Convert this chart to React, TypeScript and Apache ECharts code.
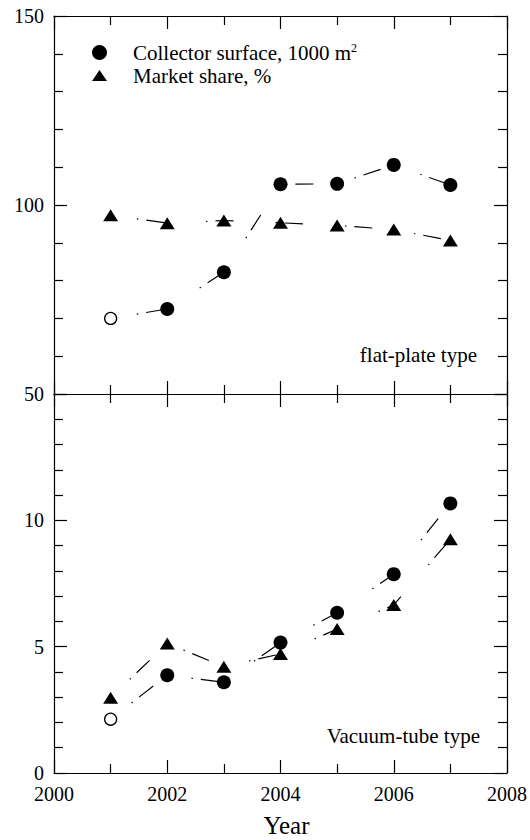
import React, { useEffect, useRef } from "react";
import * as echarts from "echarts";

const years = [2001, 2002, 2003, 2004, 2005, 2006, 2007];
const flatCollector = [70.0, 72.5, 82.2, 105.5, 105.6, 110.6, 105.3];
const flatShare = [97.3, 95.2, 95.9, 95.3, 94.6, 93.5, 90.6];
const vacuumCollector = [2.13, 3.87, 3.59, 5.16, 6.34, 7.87, 10.67];
const vacuumShare = [2.98, 5.13, 4.21, 4.71, 5.7, 6.65, 9.25];
const xTicks = [2000, 2002, 2004, 2006, 2008];
const topYTicks = [50, 100, 150];
const bottomYTicks = [0, 5, 10, 15];

const FONT = "Liberation Serif, Times New Roman, serif";
const BLACK = "#000";

export default function App() {
  const ref = useRef<HTMLDivElement>(null);
  useEffect(() => {
    if (!ref.current) return;
    const chart = echarts.init(ref.current, undefined, { renderer: "svg" });

    const lineSt = { color: BLACK, width: 1.2 };
    const xAxis = (gridIndex: number, position: string, showLabel: boolean) => ({
      type: "value",
      gridIndex,
      position,
      min: xTicks[0],
      max: xTicks[xTicks.length - 1],
      interval: xTicks[1] - xTicks[0],
      axisLine: { show: true, onZero: false, lineStyle: lineSt },
      axisTick: { show: true, inside: true, length: 13, lineStyle: lineSt },
      minorTick: { show: true, splitNumber: 2, length: 9, lineStyle: lineSt },
      splitLine: { show: false },
      minorSplitLine: { show: false },
      axisLabel: {
        show: showLabel,
        color: BLACK,
        fontFamily: FONT,
        fontSize: 20,
        margin: 11,
        formatter: (v: number) => String(v),
      },
      ...(showLabel
        ? {
            name: "Year",
            nameLocation: "middle",
            nameGap: 40,
            nameTextStyle: {
              color: BLACK,
              fontFamily: FONT,
              fontSize: 25,
              padding: [0, 0, 0, 12],
            },
          }
        : {}),
    });
    const yAxis = (
      gridIndex: number,
      position: string,
      ticks: number[],
      minorSplit: number,
      showLabel: boolean,
      showMax: boolean
    ) => ({
      type: "value",
      gridIndex,
      position,
      min: ticks[0],
      max: ticks[ticks.length - 1],
      interval: ticks[1] - ticks[0],
      axisLine: { show: true, onZero: false, lineStyle: lineSt },
      axisTick: { show: true, inside: true, length: 13, lineStyle: lineSt },
      minorTick: { show: true, splitNumber: minorSplit, length: 9, lineStyle: lineSt },
      splitLine: { show: false },
      minorSplitLine: { show: false },
      axisLabel: {
        show: showLabel,
        showMaxLabel: showMax,
        color: BLACK,
        fontFamily: FONT,
        fontSize: 20,
        margin: 10,
        formatter: (v: number) => String(v),
      },
    });

    const dashLine = {
      color: BLACK,
      width: 1.2,
      type: [1.5, 8, 18, 42],
      dashOffset: 42.5,
    };
    const circleData = (vals: number[]) =>
      years.map((y, i) =>
        i === 0
          ? {
              value: [y, vals[i]],
              symbolSize: 12,
              itemStyle: { color: "#fff", borderColor: BLACK, borderWidth: 1.3 },
            }
          : { value: [y, vals[i]] }
      );
    const triData = (vals: number[]) => years.map((y, i) => [y, vals[i]]);

    const circleSeries = (idx: number, vals: number[]) => ({
      type: "line",
      name: "Collector surface",
      xAxisIndex: idx * 2,
      yAxisIndex: idx * 2,
      data: circleData(vals),
      symbol: "circle",
      symbolSize: 14,
      showAllSymbol: true,
      itemStyle: { color: BLACK },
      lineStyle: dashLine,
      silent: true,
      z: 3,
    });
    const triSeries = (idx: number, vals: number[]) => ({
      type: "line",
      name: "Market share",
      xAxisIndex: idx * 2,
      yAxisIndex: idx * 2,
      data: triData(vals),
      symbol: "triangle",
      symbolSize: [15, 12],
      showAllSymbol: true,
      itemStyle: { color: BLACK },
      lineStyle: dashLine,
      silent: true,
      z: 2,
    });

    chart.setOption({
      animation: false,
      backgroundColor: "#fff",
      grid: [
        { left: 54, top: 16, width: 453, height: 378 },
        { left: 54, top: 394, width: 453, height: 379 },
      ],
      xAxis: [
        xAxis(0, "bottom", false),
        xAxis(0, "top", false),
        xAxis(1, "bottom", true),
        xAxis(1, "top", false),
      ],
      yAxis: [
        yAxis(0, "left", topYTicks, 5, true, true),
        yAxis(0, "right", topYTicks, 5, false, true),
        yAxis(1, "left", bottomYTicks, 5, true, false),
        yAxis(1, "right", bottomYTicks, 5, false, false),
      ],
      legend: {
        orient: "vertical",
        left: 87,
        top: 36.5,
        itemWidth: 57,
        itemHeight: 15,
        itemGap: 2,
        selectedMode: false,
        data: [
          { name: "Collector surface", icon: "circle" },
          { name: "Market share", icon: "path://M0,0M15,15M7.5,2L15,13L0,13Z" },
        ],
        formatter: (name: string) =>
          name === "Collector surface"
            ? "{t|Collector surface, 1000 m}{sup|2}"
            : "{t|Market share, %}",
        textStyle: {
          color: BLACK,
          fontFamily: FONT,
          fontSize: 21,
          rich: {
            t: { color: BLACK, fontFamily: FONT, fontSize: 21, lineHeight: 22 },
            sup: {
              color: BLACK,
              fontFamily: FONT,
              fontSize: 12,
              lineHeight: 12,
              verticalAlign: "top",
            },
          },
        },
      },
      graphic: [
        {
          type: "text",
          right: 530 - 477,
          top: 344,
          style: {
            text: "flat-plate type",
            fill: BLACK,
            fontFamily: FONT,
            fontSize: 21,
          },
        },
        {
          type: "text",
          right: 530 - 480,
          top: 725,
          style: {
            text: "Vacuum-tube type",
            fill: BLACK,
            fontFamily: FONT,
            fontSize: 21,
          },
        },
      ],
      series: [
        triSeries(0, flatShare),
        circleSeries(0, flatCollector),
        triSeries(1, vacuumShare),
        circleSeries(1, vacuumCollector),
      ],
    });
    return () => chart.dispose();
  }, []);
  return (
    <div
      ref={ref}
      style={{ position: "fixed", left: 0, top: 0, width: 530, height: 840, background: "#fff" }}
    />
  );
}
